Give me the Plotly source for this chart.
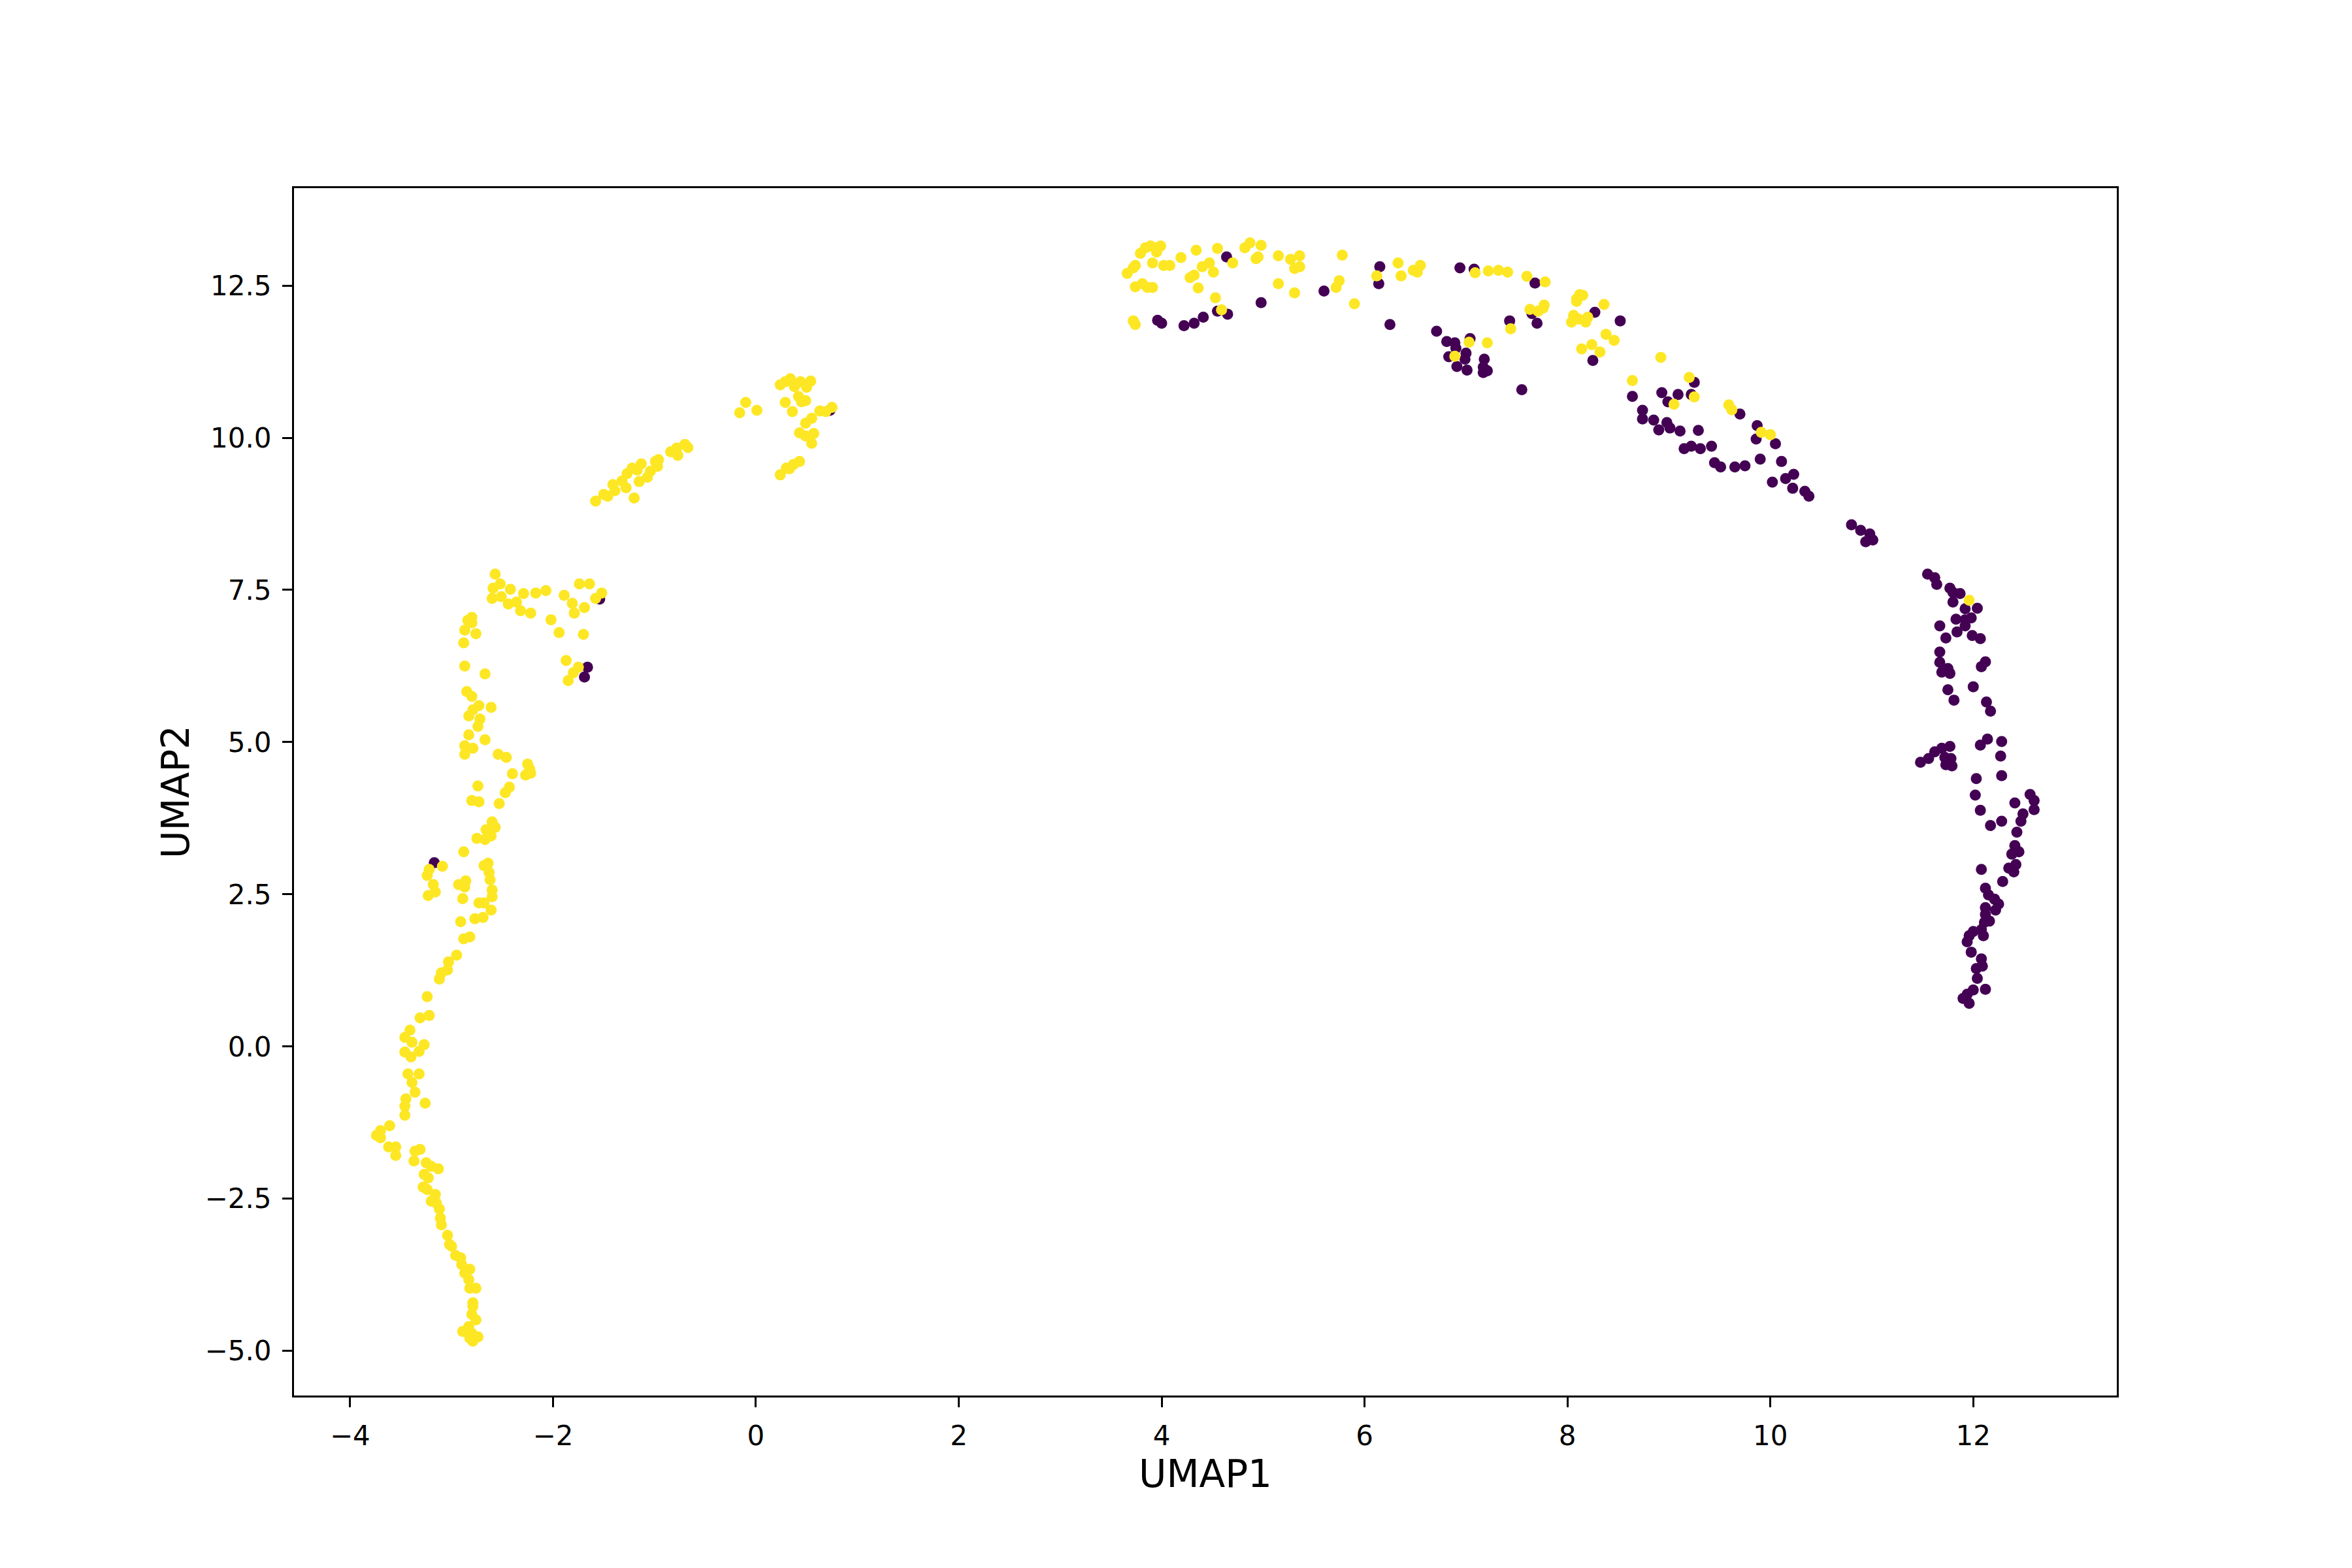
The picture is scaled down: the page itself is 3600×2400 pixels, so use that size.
import plotly.graph_objects as go

# cluster 1 (yellow) - lower left strand
yl_low_x = [-3.09, -3.22, -3.24, -3.18, -3.16, -3.23, -2.88, -2.68, -2.64, -2.63,
            -2.62, -2.93, -2.86, -2.87, -2.89, -2.60, -2.60, -2.73, -2.68, -2.61,
            -2.77, -2.69, -2.91, -2.88, -2.82, -2.95, -3.03, -3.04, -3.10, -3.12,
            -3.24, -3.31, -3.22, -3.41, -3.46, -3.39, -3.27, -3.32, -3.46, -3.40,
            -3.43, -3.32, -3.39, -3.36, -3.45, -3.46, -3.46, -3.26, -3.61, -3.70,
            -3.74, -3.70, -3.62, -3.55, -3.55, -3.36, -3.31, -3.37, -3.25, -3.20,
            -3.13, -3.27, -3.23, -3.28, -3.24, -3.16, -3.20, -3.15, -3.12, -3.11,
            -3.10, -3.04, -3.02, -3.00, -2.96, -2.91, -2.90, -2.82, -2.87, -2.83,
            -2.82, -2.76, -2.79, -2.79, -2.80, -2.76, -2.89, -2.83, -2.80, -2.82,
            -2.74, -2.79]
yl_low_y = [2.96, 2.91, 2.81, 2.66, 2.54, 2.48, 3.20, 2.97, 3.01, 2.86,
            2.74, 2.66, 2.72, 2.62, 2.43, 2.57, 2.46, 2.36, 2.36, 2.24,
            2.10, 2.12, 2.05, 1.77, 1.80, 1.50, 1.39, 1.26, 1.21, 1.11,
            0.82, 0.47, 0.51, 0.27, 0.15, 0.07, 0.03, -0.08, -0.09, -0.17,
            -0.45, -0.45, -0.59, -0.75, -0.86, -0.98, -1.13, -0.93, -1.30, -1.38,
            -1.46, -1.50, -1.65, -1.65, -1.79, -1.72, -1.69, -1.88, -1.91, -1.97,
            -2.01, -2.10, -2.16, -2.31, -2.35, -2.43, -2.54, -2.57, -2.67, -2.82,
            -2.93, -3.10, -3.25, -3.28, -3.43, -3.47, -3.58, -3.66, -3.72, -3.83,
            -3.97, -3.97, -4.21, -4.27, -4.40, -4.49, -4.68, -4.60, -4.71, -4.79,
            -4.77, -4.84]

# cluster 1 - upper left strand
yl_up_x = [-2.57, -2.52, -2.59, -2.60, -2.51, -2.42, -2.44, -2.36, -2.32, -2.29,
           -2.22, -2.17, -2.07, -1.89, -1.81, -1.79, -1.74, -1.64, -1.69, -1.52,
           -1.58, -2.02, -1.94, -1.70, -2.80, -2.84, -2.80, -2.87, -2.76, -2.88,
           -2.87, -2.67, -2.85, -2.80, -2.73, -2.79, -2.83, -2.61, -2.72, -2.74,
           -2.83, -2.67, -2.87, -2.79, -2.87, -2.54, -2.46, -1.87, -1.75, -1.80,
           -1.85, -2.25, -2.23, -2.27, -2.22, -2.40, -2.74, -2.43, -2.47, -2.80,
           -2.73, -2.53, -2.60, -2.57, -2.66, -2.61, -2.75, -2.67]
yl_up_y = [7.76, 7.60, 7.53, 7.36, 7.39, 7.51, 7.27, 7.30, 7.16, 7.44,
           7.12, 7.45, 7.49, 7.41, 7.28, 7.12, 7.60, 7.60, 7.21, 7.45,
           7.36, 7.01, 6.80, 6.77, 7.05, 7.00, 6.96, 6.84, 6.78, 6.63,
           6.25, 6.12, 5.83, 5.75, 5.60, 5.53, 5.43, 5.57, 5.38, 5.26,
           5.12, 5.04, 4.94, 4.90, 4.80, 4.80, 4.75, 6.34, 6.23, 6.14,
           6.01, 4.64, 4.56, 4.46, 4.49, 4.48, 4.28, 4.26, 4.17, 4.04,
           4.02, 3.99, 3.69, 3.60, 3.56, 3.46, 3.42, 3.40]

# cluster 1 - small groups near x=-1..1
yl_mid_x = [-1.58, -1.50, -1.46, -1.41, -1.39, -1.32, -1.28, -1.27, -1.22, -1.17,
            -1.13, -1.15, -1.07, -1.04, -0.99, -0.96, -0.97, -1.20, -0.84, -0.78,
            -0.77, -0.70, -0.67, -0.16, -0.10, 0.01, 0.24, 0.29, 0.34, 0.38,
            0.44, 0.50, 0.54, 0.42, 0.45, 0.49, 0.29, 0.36, 0.63, 0.69,
            0.75, 0.55, 0.49, 0.43, 0.49, 0.57, 0.55, 0.24, 0.30, 0.37,
            0.43, 0.33]
yl_mid_y = [8.96, 9.07, 9.04, 9.23, 9.13, 9.29, 9.18, 9.41, 9.50, 9.47,
            9.57, 9.28, 9.35, 9.45, 9.61, 9.64, 9.53, 9.01, 9.77, 9.83,
            9.71, 9.89, 9.84, 10.41, 10.58, 10.45, 10.87, 10.92, 10.97, 10.84,
            10.92, 10.83, 10.93, 10.68, 10.59, 10.61, 10.58, 10.43, 10.44, 10.43,
            10.50, 10.32, 10.24, 10.08, 10.03, 10.07, 9.91, 9.39, 9.50, 9.56,
            9.61, 9.49]

# cluster 1 - top arc
yl_top_x = [3.66, 3.72, 3.74, 3.79, 3.84, 3.89, 3.94, 3.99, 3.95, 3.91,
            4.02, 4.08, 4.19, 4.34, 4.55, 3.74, 3.81, 3.86, 3.91, 4.28,
            4.32, 4.36, 4.40, 4.47, 4.51, 4.53, 4.59, 4.70, 4.82, 4.87,
            4.98, 4.93, 4.95, 5.15, 5.27, 5.36, 5.31, 5.36, 5.15, 5.31,
            5.78, 5.75, 5.72, 5.90, 6.12, 6.33, 6.36, 6.48, 6.55, 6.52,
            3.72, 3.74, 7.03, 7.21, 6.89, 7.09, 7.22, 7.32,
            7.41, 7.60, 7.78, 8.09, 8.12, 8.15, 8.09, 7.63, 7.71, 7.77,
            7.76, 8.36, 8.06, 8.04, 8.11, 8.18, 8.20, 7.44, 8.38, 8.46,
            8.14, 8.24, 8.32, 8.92, 8.64, 9.20, 9.25, 9.05, 9.59, 9.62,
            10.00, 9.91, 11.96]
yl_top_y = [12.70, 12.79, 12.83, 13.03, 13.12, 13.15, 13.12, 13.15, 13.05, 12.87,
            12.83, 12.83, 12.96, 13.08, 13.11, 12.48, 12.53, 12.47, 12.47, 12.63,
            12.67, 12.46, 12.81, 12.87, 12.72, 12.30, 12.10, 12.87, 13.12, 13.20,
            13.16, 12.94, 12.97, 12.99, 12.93, 12.99, 12.78, 12.81, 12.53, 12.38,
            13.00, 12.58, 12.47, 12.20, 12.66, 12.87, 12.66, 12.75, 12.83, 12.72,
            11.92, 11.86, 11.57, 11.56, 11.34, 12.71, 12.74, 12.75,
            12.72, 12.65, 12.56, 12.28, 12.35, 12.34, 12.24, 12.11, 12.08, 12.18,
            12.13, 12.19, 12.01, 11.90, 11.95, 11.90, 11.98, 11.79, 11.70, 11.60,
            11.46, 11.53, 11.41, 11.32, 10.94, 10.99, 10.67, 10.55, 10.54, 10.46,
            10.05, 10.09, 7.33]

# cluster 0 (purple) - stray points on the left
pu_left_x = [-3.17, -1.54, -1.66, -1.69, 0.73]
pu_left_y = [3.02, 7.35, 6.23, 6.07, 10.45]

# cluster 0 - top arc
pu_top_x = [4.64, 3.96, 4.00, 4.22, 4.32, 4.41, 4.55, 4.65, 4.98, 5.60,
            6.15, 6.14, 6.25, 6.71, 6.81, 6.89, 6.90, 7.04, 7.00, 6.99,
            6.83, 6.91, 7.01, 7.18, 7.17, 7.17, 7.21, 6.94, 7.08,
            7.68, 7.43, 7.70, 7.65, 8.27, 8.52, 8.25, 7.55, 9.25, 8.64,
            8.93, 9.09, 9.22, 8.99, 8.74, 8.74, 8.85, 8.90, 8.98, 9.01,
            9.11, 9.29, 9.15, 9.22, 9.31, 9.42, 9.45, 9.51, 9.65, 9.75,
            9.90, 9.70, 9.87, 9.86, 10.05, 10.11, 10.02, 10.15, 10.23, 10.22,
            10.34, 10.38, 10.80, 10.89, 10.98, 10.94, 11.01]
pu_top_y = [12.97, 11.93, 11.88, 11.84, 11.88, 11.98, 12.08, 12.03, 12.22, 12.41,
            12.81, 12.53, 11.86, 11.75, 11.58, 11.56, 11.47, 11.63, 11.39, 11.29,
            11.33, 11.17, 11.11, 11.29, 11.16, 11.07, 11.10, 12.79, 12.77,
            12.54, 11.92, 11.88, 12.04, 12.06, 11.92, 11.27, 10.79, 10.91, 10.68,
            10.74, 10.71, 10.71, 10.59, 10.45, 10.31, 10.29, 10.13, 10.25, 10.16,
            10.11, 10.12, 9.82, 9.86, 9.82, 9.86, 9.59, 9.52, 9.52, 9.54,
            9.65, 10.39, 10.20, 9.98, 9.90, 9.61, 9.27, 9.33, 9.40, 9.17,
            9.12, 9.04, 8.57, 8.48, 8.42, 8.29, 8.32]

# cluster 0 - right strand
pu_right_x = [11.55, 11.62, 11.64, 11.77, 11.80, 11.87, 11.80, 11.92, 12.04, 11.83,
              11.92, 11.98, 11.92, 11.67, 11.84, 11.73, 11.99, 12.07, 11.67, 11.67,
              11.69, 11.75, 11.77, 12.12, 12.08, 11.75, 11.81, 12.00, 12.13, 12.17,
              11.48, 11.56, 11.62, 11.69, 11.77, 11.72, 11.78, 11.73, 11.79, 12.07,
              12.14, 12.28, 12.27, 12.28, 12.03, 12.02, 12.07, 12.17, 12.28, 12.41,
              12.56, 12.60, 12.60, 12.49, 12.47, 12.43, 12.41, 12.45, 12.38, 12.42,
              12.35, 12.40, 12.08, 12.29, 12.12, 12.15, 12.21, 12.25, 12.22, 12.12,
              12.12, 12.11, 12.16, 12.08, 12.10, 12.00, 11.96, 11.94, 11.98, 12.08,
              12.09, 12.03, 12.04, 12.12, 12.00, 11.94, 11.90, 11.96]
pu_right_y = [7.76, 7.70, 7.59, 7.53, 7.46, 7.44, 7.30, 7.19, 7.20, 7.02,
              7.01, 7.04, 6.91, 6.91, 6.81, 6.71, 6.75, 6.70, 6.48, 6.31,
              6.15, 6.21, 6.13, 6.32, 6.24, 5.86, 5.69, 5.91, 5.66, 5.51,
              4.67, 4.73, 4.84, 4.90, 4.93, 4.75, 4.73, 4.63, 4.61, 4.95,
              5.05, 5.01, 4.77, 4.45, 4.40, 4.13, 3.88, 3.63, 3.70, 4.00,
              4.14, 4.04, 3.89, 3.82, 3.70, 3.52, 3.30, 3.20, 3.16, 2.99,
              2.93, 2.87, 2.91, 2.71, 2.60, 2.49, 2.42, 2.34, 2.24, 2.28,
              2.17, 2.04, 2.06, 1.92, 1.82, 1.89, 1.82, 1.72, 1.55, 1.44,
              1.32, 1.28, 1.12, 0.94, 0.93, 0.86, 0.79, 0.71]

x_ticks = [-4, -2, 0, 2, 4, 6, 8, 10, 12]
x_tick_labels = ["\u22124", "\u22122", "0", "2", "4", "6", "8", "10", "12"]
y_ticks = [-5.0, -2.5, 0.0, 2.5, 5.0, 7.5, 10.0, 12.5]
y_tick_labels = ["\u22125.0", "\u22122.5", "0.0", "2.5", "5.0", "7.5", "10.0", "12.5"]

purple_x = pu_left_x + pu_top_x + pu_right_x
purple_y = pu_left_y + pu_top_y + pu_right_y
yellow_x = yl_low_x + yl_up_x + yl_mid_x + yl_top_x
yellow_y = yl_low_y + yl_up_y + yl_mid_y + yl_top_y

fig = go.Figure()

fig.add_trace(go.Scatter(
    x=purple_x,
    y=purple_y,
    mode='markers',
    marker=dict(color='#440154', size=17, line=dict(width=0)),
    name='0'
))

fig.add_trace(go.Scatter(
    x=yellow_x,
    y=yellow_y,
    mode='markers',
    marker=dict(color='#fde725', size=17, line=dict(width=0)),
    name='1'
))

axis_style = dict(
    showgrid=False,
    zeroline=False,
    showline=True,
    mirror=True,
    linecolor='black',
    linewidth=3,
    ticks='outside',
    ticklen=15,
    tickwidth=3,
    tickcolor='black',
    tickfont=dict(family='DejaVu Sans', size=42, color='black'),
)

fig.update_layout(
    width=3600,
    height=2400,
    autosize=False,
    margin=dict(l=450, r=360, t=288, b=264),
    paper_bgcolor='white',
    plot_bgcolor='white',
    showlegend=False,
    font=dict(family='DejaVu Sans', color='black'),
    xaxis=dict(
        axis_style,
        range=[-4.553, 13.415],
        tickvals=x_ticks,
        ticktext=x_tick_labels,
        ticklabelstandoff=8,
        title=dict(text='UMAP1', font=dict(size=58), standoff=0),
    ),
    yaxis=dict(
        axis_style,
        range=[-5.733, 14.10],
        tickvals=y_ticks,
        ticktext=y_tick_labels,
        ticklabelstandoff=8,
        title=dict(text='UMAP2', font=dict(size=58), standoff=6),
    ),
)

# drop the default page margin so the figure sits at the window's corner
fig.write_html("out.html", config={'displayModeBar': False},
               post_script="document.body.style.margin='0';")
